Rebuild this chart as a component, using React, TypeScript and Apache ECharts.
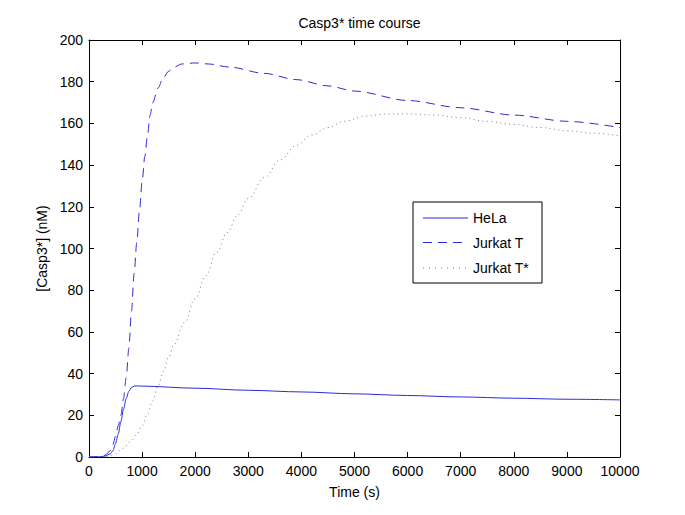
import React, { useEffect, useRef } from "react";
import * as echarts from "echarts";

const helaData: number[][] = [
  [0, 0], [200, 0.1], [300, 0.4], [400, 1.5], [450, 3], [500, 6.5], [550, 11], [600, 17],
  [650, 23], [700, 28], [750, 31.5], [800, 33.3], [850, 34], [900, 34.1], [1000, 34],
  [2000, 33], [3000, 32], [4000, 31.2], [5000, 30.3], [6000, 29.5], [7000, 28.8],
  [8000, 28.2], [9000, 27.7], [10000, 27.4],
];

const jurkatData: number[][] = [
  [0, 0], [200, 0.2], [300, 0.8], [400, 3], [450, 6], [500, 10], [550, 15], [600, 20],
  [650, 28], [700, 38], [750, 52], [800, 70], [850, 88], [900, 103], [950, 118], [1000, 132],
  [1050, 144], [1100, 154], [1150, 164], [1200, 170], [1300, 177], [1400, 182], [1500, 185],
  [1600, 187], [1750, 188.5], [2000, 189], [2250, 188.5], [2650, 187], [3300, 184],
  [3900, 181], [4500, 178], [5000, 175.5], [6000, 171], [7000, 167.5], [8000, 164],
  [9000, 161], [10000, 158],
];

const jurkatStarData: number[][] = [
  [0, 0], [300, 0.2], [400, 0.6], [500, 1.5], [600, 3.5], [700, 5.5], [800, 8], [900, 11],
  [1000, 15], [1100, 20.5], [1200, 27], [1300, 34], [1400, 41], [1500, 48], [1600, 54],
  [1800, 64.5], [2000, 76], [2200, 87], [2400, 98], [2600, 107.5], [2800, 116], [3000, 124],
  [3300, 134], [3600, 142.5], [3900, 149.5], [4200, 154.5], [4500, 158], [4800, 161],
  [5200, 163.5], [5600, 164.5], [6000, 164.6], [6500, 164], [7000, 162.8], [7500, 161],
  [8000, 159.5], [8500, 158], [9000, 156.5], [9500, 155.3], [10000, 154],
];

const seriesNames = ["HeLa", "Jurkat T", "Jurkat T*"];

const FONT = "Liberation Sans, Arial, Helvetica, sans-serif";
const BLUE = "#2b2bdb";
const DOT = "#7a7aa8";

export default function App() {
  const ref = useRef<HTMLDivElement>(null);
  useEffect(() => {
    document.body.style.margin = "0";
    const chart = echarts.init(ref.current!, null, { renderer: "svg" });
    const axisCommon = {
      axisLine: { show: true, onZero: false, lineStyle: { color: "#000", width: 1 } },
      axisTick: { show: true, inside: true, length: 5, lineStyle: { color: "#000" } },
      splitLine: { show: false },
    };
    const lx = 413, ly = 202, lw = 129, lh = 81;
    const rows = [218, 242.5, 268];
    chart.setOption({
      animation: false,
      backgroundColor: "#fff",
      textStyle: { fontFamily: FONT },
      title: {
        text: "Casp3* time course",
        left: 354.5,
        top: 11,
        textAlign: "center",
        textStyle: { fontFamily: FONT, fontSize: 14, fontWeight: "normal", color: "#000" },
      },
      grid: { left: 89, right: 65, top: 40, bottom: 58 },
      xAxis: [
        {
          type: "value", min: 0, max: 10000, interval: 1000, position: "bottom",
          name: "Time (s)", nameLocation: "middle", nameGap: 28,
          nameTextStyle: { fontFamily: FONT, fontSize: 14, color: "#000" },
          axisLabel: { fontFamily: FONT, fontSize: 14, color: "#000", margin: 7, formatter: (v: number) => String(v) },
          ...axisCommon,
        },
        {
          type: "value", min: 0, max: 10000, interval: 1000, position: "top",
          axisLabel: { show: false },
          ...axisCommon,
        },
      ],
      yAxis: [
        {
          type: "value", min: 0, max: 200, interval: 20, position: "left",
          name: "[Casp3*] (nM)", nameLocation: "middle", nameGap: 40, nameRotate: 90,
          nameTextStyle: { fontFamily: FONT, fontSize: 14, color: "#000" },
          axisLabel: { fontFamily: FONT, fontSize: 14, color: "#000", margin: 6 },
          ...axisCommon,
        },
        {
          type: "value", min: 0, max: 200, interval: 20, position: "right",
          axisLabel: { show: false },
          ...axisCommon,
        },
      ],
      series: [
        {
          name: seriesNames[0], type: "line", data: helaData, smooth: 0.3, smoothMonotone: "x",
          showSymbol: false, lineStyle: { color: BLUE, width: 1 },
        },
        {
          name: seriesNames[1], type: "line", data: jurkatData, smooth: 0.3, smoothMonotone: "x",
          showSymbol: false, lineStyle: { color: BLUE, width: 1, type: [9, 6] },
        },
        {
          name: seriesNames[2], type: "line", data: jurkatStarData, smooth: 0.4, smoothMonotone: "x",
          showSymbol: false, lineStyle: { color: DOT, width: 1, type: [1, 3.5] },
        },
      ],
      graphic: [
        {
          type: "rect", shape: { x: lx, y: ly, width: lw, height: lh },
          style: { fill: "#fff", stroke: "#000", lineWidth: 1 }, z: 100,
        },
        { type: "line", shape: { x1: 423, y1: rows[0], x2: 468, y2: rows[0] }, style: { stroke: BLUE, lineWidth: 1 }, z: 101 },
        { type: "line", shape: { x1: 423, y1: rows[1], x2: 468, y2: rows[1] }, style: { stroke: BLUE, lineWidth: 1, lineDash: [9, 6] }, z: 101 },
        { type: "line", shape: { x1: 423, y1: rows[2], x2: 468, y2: rows[2] }, style: { stroke: DOT, lineWidth: 1, lineDash: [1, 5] }, z: 101 },
        ...seriesNames.map((n, i) => ({
          type: "text", x: 473, y: rows[i], z: 101,
          style: { text: n, fill: "#000", font: `14px ${FONT}`, verticalAlign: "middle" },
        })),
      ],
    });
    return () => chart.dispose();
  }, []);
  return <div ref={ref} style={{ width: 685, height: 515 }} />;
}
